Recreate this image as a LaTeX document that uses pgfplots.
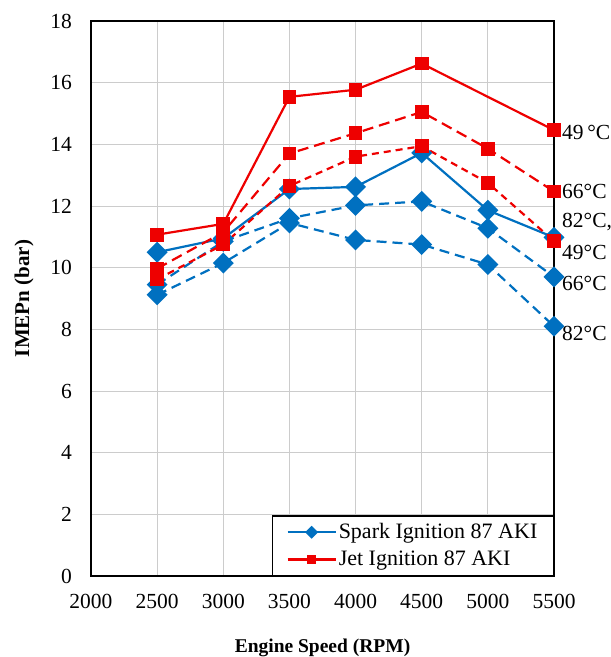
\documentclass[border=0pt]{standalone}
\usepackage{pgfplots}
\pgfplotsset{compat=1.18}
\usepackage{fontspec}
\setmainfont{Liberation Serif}
\definecolor{sblue}{RGB}{0,112,192}
\definecolor{jred}{RGB}{238,0,0}
\begin{document}
\fontsize{21.5}{26}\selectfont
\begin{tikzpicture}
\begin{axis}[
  scale only axis,
  width=463pt, height=555pt,
  xmin=2000, xmax=5500, ymin=0, ymax=18,
  xtick={2000,2500,...,5500}, ytick={0,2,...,18},
  /pgf/number format/assume math mode=true,
  /pgf/number format/1000 sep={},
  grid=major,
  major grid style={draw=black!20, line width=0.9pt},
  major tick length=0pt,
  axis line style={line width=1.8pt},
  tick label style={font=\fontsize{21.5}{26}\selectfont, inner sep=0pt},
  xticklabel style={anchor=north, yshift=-18pt},
  yticklabel style={anchor=east, xshift=-19pt},
  xlabel={\textbf{Engine Speed (RPM)}},
  ylabel={\textbf{IMEPn (bar)}},
  xlabel style={font=\fontsize{19.5}{23}\selectfont, at={(axis description cs:0.5,-0.1297)}, anchor=center},
  ylabel style={font=\fontsize{21}{25}\selectfont, at={(axis description cs:-0.1447,0.5)}, anchor=center},
  clip=false,
  legend cell align=left,
  legend style={at={(1,0)}, anchor=south east, draw=black, line width=1.3pt,
    font=\fontsize{22}{26}\selectfont, inner xsep=14pt, inner ysep=5pt,
    nodes={inner sep=2pt}, row sep=5pt},
  legend image code/.code={\draw[mark repeat=2,mark phase=2,#1, every mark/.append style={scale=0.55}] plot coordinates {(0pt,0pt)(24pt,0pt)(48pt,0pt)};},
]
\coordinate (ll) at (rel axis cs:0,0);
\coordinate (ur) at (rel axis cs:1,1);
% Spark Ignition
\addplot[sblue, line width=2.2pt, mark=square*, mark size=6.3pt, mark options={solid, rotate=45}] coordinates {
 (2500,10.5) (3000,10.95) (3500,12.55) (4000,12.62) (4500,13.72) (5000,11.86) (5500,10.98)};
\addlegendentry{Spark Ignition 87 AKI}
\addplot[sblue, line width=2.2pt, dash pattern=on 10pt off 6pt, mark=square*, mark size=6.3pt, mark options={solid, rotate=45}, forget plot] coordinates {
 (2500,9.45) (3000,10.85) (3500,11.6) (4000,12.02) (4500,12.15) (5000,11.28) (5500,9.7)};
\addplot[sblue, line width=2.2pt, dash pattern=on 10pt off 6pt, mark=square*, mark size=6.3pt, mark options={solid, rotate=45}, forget plot] coordinates {
 (2500,9.12) (3000,10.15) (3500,11.45) (4000,10.9) (4500,10.75) (5000,10.1) (5500,8.1)};
% Jet Ignition
\addplot[jred, line width=2.2pt, mark=square*, mark size=5.8pt, mark options={solid}] coordinates {
 (2500,11.07) (3000,11.42) (3500,15.54) (4000,15.77) (4500,16.62) (5500,14.46)};
\addlegendentry{Jet Ignition 87 AKI}
\addplot[jred, line width=2.2pt, dash pattern=on 11pt off 6pt, mark=square*, mark size=5.8pt, mark options={solid}, forget plot] coordinates {
 (2500,9.97) (3000,11.15) (3500,13.7) (4000,14.36) (4500,15.05) (5000,13.86) (5500,12.47)};
\addplot[jred, line width=2.2pt, dash pattern=on 7pt off 5pt, mark=square*, mark size=5.8pt, mark options={solid}, forget plot] coordinates {
 (2500,9.62) (3000,10.75) (3500,12.65) (4000,13.6) (4500,13.94) (5000,12.75) (5500,10.86)};
\begin{scope}[every node/.style={anchor=west, inner sep=0pt, xshift=8pt, font=\fontsize{21.5}{26}\selectfont}]
\node at (axis cs:5500,14.4) {49\,°C};
\node at (axis cs:5500,12.46) {66°C};
\node at (axis cs:5500,11.48) {82°C,};
\node at (axis cs:5500,10.5) {49°C};
\node at (axis cs:5500,9.5) {66°C};
\node at (axis cs:5500,7.88) {82°C};
\end{scope}
\end{axis}
\pgfresetboundingbox
\path ([shift={(-91pt,-81pt)}]ll) rectangle ([shift={(57pt,21pt)}]ur);
\end{tikzpicture}
\end{document}
